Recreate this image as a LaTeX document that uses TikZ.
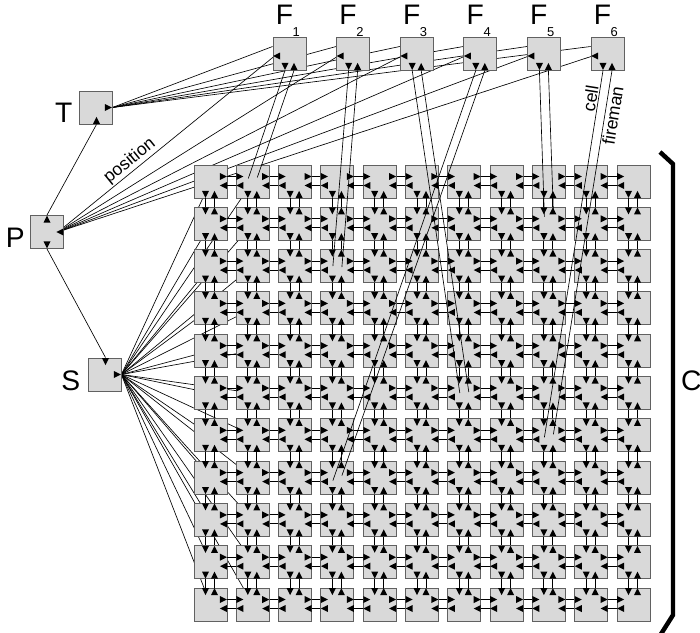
\documentclass[tikz,border=0pt]{standalone}
\usepackage{fontspec}
\setmainfont{Liberation Sans}
\usetikzlibrary{calc,backgrounds}
\tikzset{
  box/.style={rectangle,draw=black!62,fill=black!15,line width=0.8pt,minimum size=28pt,inner sep=0pt},
  wire/.style={line width=0.8pt,black},
  link/.style={line width=0.55pt,black},
  big/.style={font=\fontsize{24}{24}\selectfont,inner sep=0pt},
  idx/.style={font=\fontsize{11}{11}\selectfont,inner sep=0pt},
  tag/.style={font=\fontsize{15}{15}\selectfont,inner sep=1pt},
  port/.pic={\fill (-3.5,-3.5) -- (3.5,0) -- (-3.5,3.5) -- cycle;},
}
\begin{document}
\begin{tikzpicture}[x=0.85pt,y=-0.85pt]
  \useasboundingbox (0,0) rectangle (700,632);
  % ---- cell space C, 11 x 11 ----
  \foreach \i in {0,...,10}
    \foreach \j in {0,...,10}
      \node[box] (c-\i-\j) at ({210.5+42.3*\i},{181.5+42.3*\j}) {};
  % ---- firemen F1..F6 ----
  \foreach \k in {1,...,6}{
    \node[box] (f\k) at ({289.5+63.6*(\k-1)},53.5) {};
    \node[big,anchor=base west] (fl\k) at ($(f\k.north west)+(3,-12)$) {F};
    \node[idx,anchor=base west] (fi\k) at ($(f\k.north)+(3,-0.5)$) {\k};
  }
  % ---- T, P, S ----
  \node[box] (T) at (95.5,107.5) {};
  \node[box] (P) at (47,232) {};
  \node[box] (S) at (104.5,374.5) {};
  \node[big,anchor=base east] (Tl) at ($(T.south west)+(-6,-1.5)$) {T};
  \node[big,anchor=base east] (Pl) at ($(P.south west)+(-5,-1)$) {P};
  \node[big,anchor=base east] (Sl) at ($(S.south west)+(-7,-1)$) {S};
  % couplings hidden under the boxes
  \begin{pgfonlayer}{background}
    \foreach \k in {1,...,6}{
      \draw[link] (T.east) -- ($(f\k.west)+(0,-7)$);
      \draw[link] ($(f\k.west)+(2,2.5)$) -- ($(P.east)+(-6,0)$);
    }
    \foreach \i in {0,1}
      \foreach \j in {0,...,10}
        \draw[link] (S.east) -- (c-\i-\j.center);
  \end{pgfonlayer}
  \path ($(P.east)+(-6,0)$) -- ($(f1.west)+(2,2.5)$)
    node[tag,pos=0.36,sloped,above=0pt] (lpos) {position};
  \draw[link] (P.north) -- ($(T.south)+(1,0)$);
  \draw[link] (P.south) -- ($(S.north)+(1,0)$);
  % firemen <-> their cell
  \foreach \k/\ci/\cj/\ya/\yb in {1/1/0/-3/-4, 2/3/2/0/1, 3/6/5/0/-1, 4/3/7/3/-2, 5/8/1/-7/-11, 6/8/6/2/-1}{
    \draw[link] ($(f\k.south)+(-4.5,0)$) -- ($(c-\ci-\cj.center)+(-4.5,\ya)$);
    \draw[link] ($(f\k.south)+(4.5,0)$) -- ($(c-\ci-\cj.center)+(4.5,\yb)$);
  }
  \path ($(f6.south)+(-4.5,0)$) -- ($(c-8-6.center)+(-4.5,2)$)
    node[tag,pos=0.08,sloped,above] (lcell) {cell};
  \path ($(f6.south)+(4.5,0)$) -- ($(c-8-6.center)+(4.5,-1)$)
    node[tag,pos=0.12,sloped,below] (lfire) {fireman};
  % ---- ports ----
  \foreach \k in {1,...,6}{
    \pic[rotate=180] at ($(f\k.west)+(4,2.5)$) {port};
    \pic[rotate=-90] at ($(f\k.south)+(-4.5,-4)$) {port};
    \pic[rotate=90] at ($(f\k.south)+(4.5,-4)$) {port};
  }
  \pic at ($(T.east)+(-4,0)$) {port};
  \pic[rotate=90] at ($(T.south)+(1,-4)$) {port};
  \pic[rotate=90] at ($(P.north)+(0,4)$) {port};
  \pic[rotate=180] at ($(P.east)+(-4,0)$) {port};
  \pic[rotate=-90] at ($(P.south)+(0,-4)$) {port};
  \pic[rotate=-90] at ($(S.north)+(1,4)$) {port};
  \pic at ($(S.east)+(-4,0)$) {port};
  % neighbour wires, east-west
  \foreach \i [evaluate=\i as \n using int(\i+1)] in {0,...,9}
    \foreach \j in {0,...,10}{
      \draw[wire] ($(c-\i-\j.east)+(0,-5)$) -- ($(c-\n-\j.west)+(0,-5)$);
      \draw[wire] ($(c-\i-\j.east)+(0,4)$) -- ($(c-\n-\j.west)+(0,4)$);
      \pic at ($(c-\i-\j.east)+(-4,-5)$) {port};
      \pic[rotate=180] at ($(c-\i-\j.east)+(-4,4)$) {port};
      \pic at ($(c-\n-\j.west)+(4,-5)$) {port};
      \pic[rotate=180] at ($(c-\n-\j.west)+(4,4)$) {port};
    }
  % neighbour wires, north-south
  \foreach \j [evaluate=\j as \n using int(\j+1)] in {0,...,9}
    \foreach \i in {0,...,10}{
      \draw[wire] ($(c-\i-\j.south)+(-5,0)$) -- ($(c-\i-\n.north)+(-5,0)$);
      \draw[wire] ($(c-\i-\j.south)+(4,0)$) -- ($(c-\i-\n.north)+(4,0)$);
      \pic[rotate=-90] at ($(c-\i-\j.south)+(-5,-4)$) {port};
      \pic[rotate=90] at ($(c-\i-\j.south)+(4,-4)$) {port};
      \pic[rotate=-90] at ($(c-\i-\n.north)+(-5,4)$) {port};
      \pic[rotate=90] at ($(c-\i-\n.north)+(4,4)$) {port};
    }
  % ---- brace round the cell space ----
  \draw[line width=3.8pt,line join=miter] (660,152) -- (673,164) -- (673,615) -- (661,634);
  \node[big,anchor=west] (Cl) at (681,381) {C};
\end{tikzpicture}
\end{document}
